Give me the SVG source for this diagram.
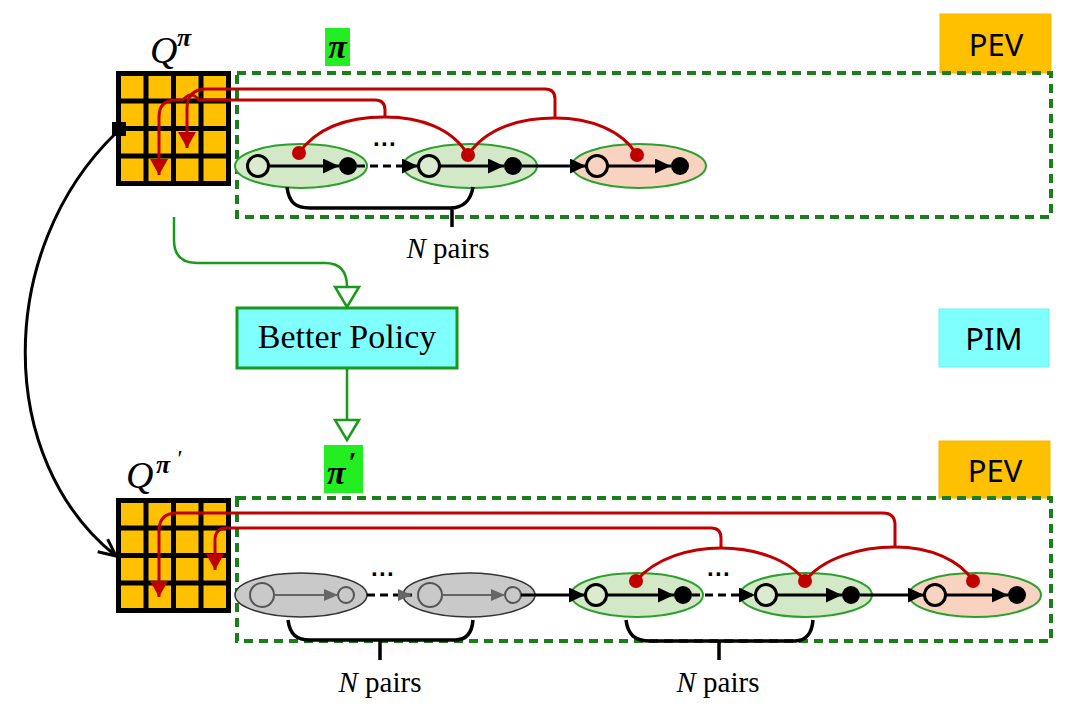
<svg xmlns="http://www.w3.org/2000/svg" width="1088" height="714" viewBox="0 0 1088 714">
<style>
.grid{fill:#FFC000;stroke:#000;stroke-width:5}
.gl{stroke:#000;stroke-width:5}
.dash{fill:none;stroke:#1a7f1a;stroke-width:4;stroke-dasharray:9 6}
.red{fill:none;stroke:#C00000;stroke-width:3}
.rdot{fill:#C00000}
.eg{fill:#d3e8c6;stroke:#2ca02c;stroke-width:2}
.eo{fill:#f8d4c0;stroke:#2ca02c;stroke-width:2}
.egr{fill:#c9c9c9;stroke:#333;stroke-width:1.5}
.oc{fill:#dcebd0;stroke:#000;stroke-width:3}
.ocO{fill:#f8d4c0;stroke:#000;stroke-width:3}
.fc{fill:#000}
.gc{fill:#c9c9c9;stroke:#555;stroke-width:2}
.blk{fill:none;stroke:#000;stroke-width:3}
.gry{fill:none;stroke:#666;stroke-width:2}
.bdash{fill:none;stroke:#000;stroke-width:3;stroke-dasharray:8 5}
.grn{fill:none;stroke:#1a9a1a;stroke-width:2.5}
.brk{fill:none;stroke:#000;stroke-width:3.5}
.tm{font-family:"Liberation Serif",serif}
.sans{font-family:"Noto Sans","Liberation Sans",sans-serif;font-size:31px;text-anchor:middle}
.np{font-family:"Liberation Serif",serif;font-size:29px;text-anchor:middle}
.dots{font-family:"Liberation Sans",sans-serif;font-size:24px;font-weight:bold;text-anchor:middle}
</style>
<defs>
<marker id="ra" markerUnits="userSpaceOnUse" viewBox="0 0 16 18" refX="16" refY="9" markerWidth="16" markerHeight="18" orient="auto"><path d="M0,0 L16,9 L0,18 z" fill="#C00000"/></marker>
<marker id="ba" markerUnits="userSpaceOnUse" viewBox="0 0 16 15" refX="16" refY="7.5" markerWidth="16" markerHeight="15" orient="auto"><path d="M0,0 L16,7.5 L0,15 z" fill="#000"/></marker>
<marker id="ga" markerUnits="userSpaceOnUse" viewBox="0 0 14 12" refX="14" refY="6" markerWidth="14" markerHeight="12" orient="auto"><path d="M0,0 L14,6 L0,12 z" fill="#666"/></marker>
<marker id="va" markerUnits="userSpaceOnUse" viewBox="0 0 20 20" refX="19" refY="10" markerWidth="20" markerHeight="20" orient="auto" overflow="visible"><path d="M2,2 L19,10 L2,18" fill="none" stroke="#000" stroke-width="3"/></marker>
<marker id="ht" markerUnits="userSpaceOnUse" viewBox="0 0 21 24" refX="20" refY="12" markerWidth="21" markerHeight="24" orient="auto" overflow="visible"><path d="M0,0 L20,12 L0,24 z" fill="#fff" stroke="#1a9a1a" stroke-width="2.5"/></marker>
</defs>

<!-- label boxes -->
<g id="pev-top"><rect x="940" y="14" width="111" height="59" fill="#FFC000" stroke="#f5b800" stroke-width="1"/><text class="sans" x="996" y="56">PEV</text></g>
<g id="pim"><rect x="939" y="309" width="110" height="58" fill="#80FFFF" stroke="#6ff0f0" stroke-width="1"/><text class="sans" x="994" y="350">PIM</text></g>
<g id="pev-bottom"><rect x="939" y="441" width="111" height="57" fill="#FFC000" stroke="#f5b800" stroke-width="1"/><text class="sans" x="995" y="482">PEV</text></g>

<!-- dashed containers -->
<g id="region-top"><rect class="dash" x="237" y="73" width="814" height="144"/></g>
<g id="region-bottom"><rect class="dash" x="237" y="498" width="814" height="143"/></g>

<!-- Q labels -->
<g id="q-top-label"><text class="tm" x="150" y="63" font-size="38" font-style="italic">Q</text><text class="tm" x="177" y="46" font-size="26" font-style="italic" font-weight="bold">π</text></g>
<g id="pi-top"><rect x="325" y="28" width="25" height="38" fill="#22ee22"/><text class="tm" x="337.5" y="58" font-size="34" font-style="italic" font-weight="bold" text-anchor="middle">π</text></g>
<g id="q-bottom-label"><text class="tm" x="126" y="488" font-size="38" font-style="italic">Q</text><text class="tm" x="156" y="473" font-size="26" font-style="italic" font-weight="bold">π</text><text class="tm" x="176" y="466" font-size="24" font-style="italic">′</text></g>
<g id="pi-bottom"><rect x="324" y="445" width="39" height="48" fill="#22ee22"/><text class="tm" x="327" y="484" font-size="34" font-style="italic" font-weight="bold">π</text><text class="tm" x="348" y="472" font-size="30" font-style="italic" font-weight="bold">′</text></g>

<!-- grids -->
<g id="grid-top"><rect class="grid" x="118.5" y="73.5" width="110" height="110"/><path class="gl" d="M146,73.5V183.5M173.5,73.5V183.5M201,73.5V183.5M118.5,101H228.5M118.5,128.5H228.5M118.5,156H228.5"/><rect x="112" y="122" width="14" height="14" fill="#000"/></g>
<g id="grid-bottom"><rect class="grid" x="118.5" y="500.5" width="110" height="110"/><path class="gl" d="M146,500.5V610.5M173.5,500.5V610.5M201,500.5V610.5M118.5,528H228.5M118.5,555.5H228.5M118.5,583H228.5"/></g>

<!-- better policy -->
<g id="better-policy"><rect x="237" y="308" width="220" height="60" fill="#80FFFF" stroke="#1a9a1a" stroke-width="3"/><text class="tm" x="347" y="348" font-size="34" text-anchor="middle">Better Policy</text></g>

<!-- top chain nodes -->
<g id="top-pair-1"><ellipse class="eg" cx="301" cy="166" rx="66" ry="22"/><circle class="oc" cx="258" cy="166" r="10.5"/><circle class="fc" cx="348" cy="166" r="9"/></g>
<g id="top-pair-2"><ellipse class="eg" cx="470" cy="166" rx="67" ry="22"/><circle class="oc" cx="429" cy="166" r="10.5"/><circle class="fc" cx="513" cy="166" r="9"/></g>
<g id="top-pair-3"><ellipse class="eo" cx="639" cy="166" rx="67" ry="22"/><circle class="ocO" cx="597" cy="166" r="10.5"/><circle class="fc" cx="680" cy="166" r="9"/></g>

<!-- bottom chain nodes -->
<g id="bot-gray-1"><ellipse class="egr" cx="301" cy="595" rx="66" ry="22"/><circle class="gc" cx="262" cy="595" r="12"/><circle class="gc" cx="346" cy="595" r="8"/></g>
<g id="bot-gray-2"><ellipse class="egr" cx="469" cy="595" rx="66" ry="22"/><circle class="gc" cx="430" cy="595" r="12"/><circle class="gc" cx="513" cy="595" r="8"/></g>
<g id="bot-pair-1"><ellipse class="eg" cx="637" cy="595" rx="66" ry="22"/><circle class="oc" cx="596" cy="595" r="10.5"/><circle class="fc" cx="683" cy="595" r="9"/></g>
<g id="bot-pair-2"><ellipse class="eg" cx="806" cy="595" rx="66" ry="22"/><circle class="oc" cx="766" cy="595" r="10.5"/><circle class="fc" cx="851" cy="595" r="9"/></g>
<g id="bot-pair-3"><ellipse class="eo" cx="975" cy="595" rx="66" ry="22"/><circle class="ocO" cx="935" cy="595" r="10.5"/><circle class="fc" cx="1017" cy="595" r="9"/></g>

<g id="connectors">
<!-- top chain arrows -->
<path class="blk" d="M269,166H339" marker-end="url(#ba)"/>
<path class="bdash" d="M357,166H418" marker-end="url(#ba)"/>
<path class="blk" d="M440,166H504" marker-end="url(#ba)"/>
<path class="blk" d="M522,166H586" marker-end="url(#ba)"/>
<path class="blk" d="M608,166H671" marker-end="url(#ba)"/>
<!-- bottom chain arrows -->
<path class="gry" d="M274,595H338" marker-end="url(#ga)"/>
<path class="bdash" d="M367,595H412" stroke="#333" marker-end="url(#ga)"/>
<path class="gry" d="M442,595H505" marker-end="url(#ga)"/>
<path class="blk" d="M521,595H585" marker-end="url(#ba)"/>
<path class="blk" d="M607,595H674" marker-end="url(#ba)"/>
<path class="bdash" d="M692,595H755" marker-end="url(#ba)"/>
<path class="blk" d="M777,595H842" marker-end="url(#ba)"/>
<path class="blk" d="M860,595H924" marker-end="url(#ba)"/>
<path class="blk" d="M946,595H1008" marker-end="url(#ba)"/>

<!-- top red -->
<path class="red" d="M299,153C318,126 350,117 385,117C420,117 452,128 468,155"/>
<path class="red" d="M468,155C486,128 520,118 555,118C590,118 622,130 637,155"/>
<path class="red" d="M555,118V99Q555,89 545,89H207Q187,89 187,109V148" marker-end="url(#ra)"/>
<path class="red" d="M385,117V110Q385,100 375,100H199Q191,90 183,100H176Q159,100 159,117V175" marker-end="url(#ra)"/>
<circle class="rdot" cx="299" cy="153" r="7"/><circle class="rdot" cx="468" cy="155" r="7"/><circle class="rdot" cx="637" cy="155" r="7"/>

<!-- bottom red -->
<path class="red" d="M636,581C655,558 690,548 721,548C752,548 788,558 805,581"/>
<path class="red" d="M805,581C823,558 860,547 895,547C930,547 960,560 973,581"/>
<path class="red" d="M895,547V525Q895,513 883,513H177Q159,513 159,531V597" marker-end="url(#ra)"/>
<path class="red" d="M721,548V538Q721,528 711,528H227Q215,528 215,540V570" marker-end="url(#ra)"/>
<circle class="rdot" cx="636" cy="581" r="7"/><circle class="rdot" cx="805" cy="581" r="7"/><circle class="rdot" cx="973" cy="581" r="7"/>

<!-- brackets -->
<path class="brk" d="M287,187C289,203 296,208 310,208H450C463,208 471,200 473,187M452,208V227"/>
<path class="brk" d="M288,620C290,635 297,640 310,640H455C466,640 472,633 473,620M380,640V660"/>
<path class="brk" d="M626,620C628,635 635,641 650,641H795C806,641 812,633 813,620M719,641V660"/>

<!-- green flow -->
<path class="grn" d="M174,217V240Q174,263 197,263H325Q347,263 347,287V307" marker-end="url(#ht)"/>
<path class="grn" d="M347,368V440" marker-end="url(#ht)"/>

<!-- curved copy arrow -->
<path class="blk" d="M116,133C-5,250 -5,460 116,556" marker-end="url(#va)"/>
</g>

<g id="labels">
<text class="dots" x="385" y="152">···</text>
<text class="dots" x="383" y="582">···</text>
<text class="dots" x="719" y="582">···</text>
<text class="np" x="448" y="258"><tspan font-style="italic">N</tspan> pairs</text>
<text class="np" x="380" y="692"><tspan font-style="italic">N</tspan> pairs</text>
<text class="np" x="718" y="692"><tspan font-style="italic">N</tspan> pairs</text>
</g>
</svg>
